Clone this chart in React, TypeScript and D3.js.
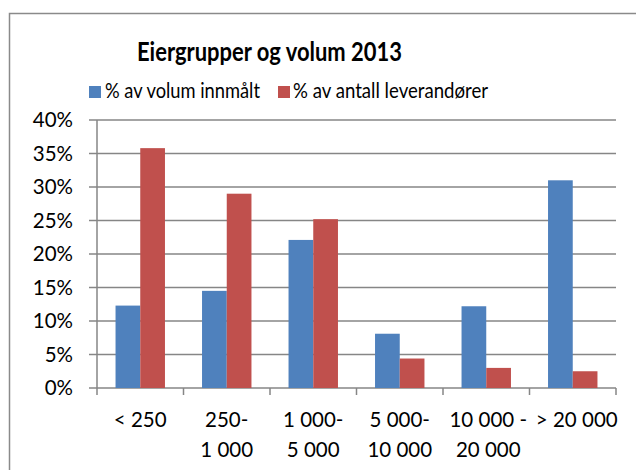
import React from "react";
import * as d3 from "d3";

const categories: string[][] = [
  ["< 250"],
  ["250-", "1 000"],
  ["1 000-", "5 000"],
  ["5 000-", "10 000"],
  ["10 000 -", "20 000"],
  ["> 20 000"],
];
const seriesNames = ["% av volum innmålt", "% av antall leverandører"];
const volumValues = [12.3, 14.5, 22.1, 8.1, 12.2, 31.0];
const leverandorValues = [35.8, 29.0, 25.2, 4.4, 3.0, 2.5];
const yTicks = [0, 5, 10, 15, 20, 25, 30, 35, 40];
const colors = ["#4F81BD", "#C0504D"];

const W = 636;
const H = 470;
const FONT = "Lato, 'Open Sans', sans-serif";

export default function App() {
  const left = 97;
  const right = 616;
  const top = 120;
  const bottom = 388;
  const keys = categories.map((c) => c.join(" "));
  const x = d3.scaleBand<string>().domain(keys).range([left, right]).padding(0);
  const bw = x.bandwidth();
  const gap = (bw * 1.5) / 3.5;
  const xs = d3
    .scaleBand<number>()
    .domain([0, 1])
    .range([gap / 2, bw - gap / 2])
    .padding(0);
  const y = d3.scaleLinear().domain([0, 40]).range([bottom, top]);
  const series = [volumValues, leverandorValues];
  const grid = "#868686";
  const fs = 20.5;

  return (
    <svg
      width={W}
      height={H}
      style={{ position: "absolute", left: 0, top: 0, fontFamily: FONT }}
    >
      <rect x={0} y={0} width={W} height={H} fill="#fff" />
      <rect x={9.5} y={13.5} width={640} height={480} fill="#fff" stroke="#8a8a8a" strokeWidth={1.5} />
      <text x={137} y={61} fontSize={27} fontWeight="bold" fill="#000" textLength={265} lengthAdjust="spacingAndGlyphs">
        Eiergrupper og volum 2013
      </text>
      {/* legend */}
      <rect x={89} y={86} width={12} height={12} fill={colors[0]} />
      <text x={105} y={98} fontSize={21.5} fill="#000" textLength={155} lengthAdjust="spacingAndGlyphs">{seriesNames[0]}</text>
      <rect x={278} y={86} width={12} height={12} fill={colors[1]} />
      <text x={293} y={98} fontSize={21.5} fill="#000" textLength={195} lengthAdjust="spacingAndGlyphs">{seriesNames[1]}</text>
      {/* gridlines */}
      {yTicks.map((t) => (
        <g key={t}>
          <line x1={left - 8} x2={right} y1={y(t)} y2={y(t)} stroke={grid} strokeWidth={1.5} />
          <text x={73} y={y(t)} dy="0.36em" textAnchor="end" fontSize={fs} fill="#000">
            {t}%
          </text>
        </g>
      ))}
      <line x1={left} x2={left} y1={y(40)} y2={bottom + 7} stroke={grid} strokeWidth={1.5} />
      {keys.map((k) => (
        <line key={k} x1={(x(k) as number) + bw} x2={(x(k) as number) + bw} y1={bottom} y2={bottom + 7} stroke={grid} strokeWidth={1.5} />
      ))}
      {/* bars */}
      {series.map((vals, si) =>
        vals.map((v, i) => (
          <rect
            key={si + "-" + i}
            x={(x(keys[i]) as number) + (xs(si) as number)}
            y={y(v)}
            width={xs.bandwidth()}
            height={bottom - y(v)}
            fill={colors[si]}
          />
        ))
      )}
      {/* category labels */}
      {categories.map((lines, i) => (
        <text key={i} textAnchor="middle" fontSize={fs} fill="#000">
          {lines.map((l, j) => (
            <tspan key={j} x={(x(keys[i]) as number) + bw / 2 + (i === 5 ? 4 : i === 4 ? 2 : 0)} y={427 + j * 29.5}>
              {l}
            </tspan>
          ))}
        </text>
      ))}
    </svg>
  );
}
